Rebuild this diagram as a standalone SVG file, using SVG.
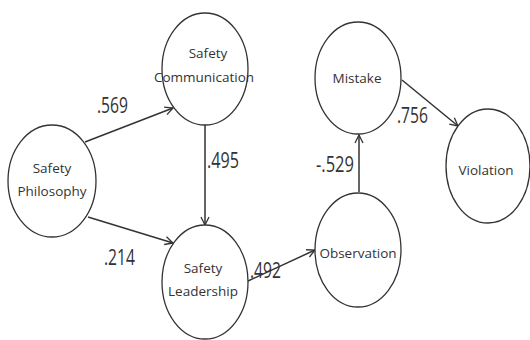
<svg xmlns="http://www.w3.org/2000/svg" width="530" height="340" viewBox="0 0 530 340">
<defs>
<marker id="arr" viewBox="0 0 10 10" refX="9" refY="5" markerWidth="10" markerHeight="10" markerUnits="userSpaceOnUse" orient="auto">
<path d="M1,1 L9,5 L1,9" fill="none" stroke="#333" stroke-width="1.3"/>
</marker>
<style>
.node ellipse{fill:#fff;stroke:#333;stroke-width:1.3}
.node text{font-family:"Open Sans","Noto Sans",sans-serif;font-size:13.5px;fill:#333;text-anchor:middle}
.edge line{stroke:#333;stroke-width:1.5;marker-end:url(#arr)}
.lbl{font-family:"Open Sans","Noto Sans",sans-serif;font-size:21px;fill:#333}
</style>
</defs>
<rect width="530" height="340" fill="#fff"/>
<g id="connectors" class="edge">
<line x1="85" y1="142" x2="173" y2="108"/>
<line x1="205" y1="125" x2="205" y2="225"/>
<line x1="88" y1="217" x2="173" y2="243"/>
<line x1="248" y1="281" x2="315" y2="250"/>
<line x1="359" y1="192" x2="359" y2="135"/>
<line x1="402" y1="80" x2="458" y2="126"/>
</g>
<g id="safety-communication" class="node">
<ellipse cx="205" cy="69" rx="43" ry="56"/>
<text x="208" y="58">Safety</text>
<text x="204" y="82">Communication</text>
</g>
<g id="safety-philosophy" class="node">
<ellipse cx="52" cy="181" rx="44" ry="56"/>
<text x="52" y="173">Safety</text>
<text x="52" y="196">Philosophy</text>
</g>
<g id="safety-leadership" class="node">
<ellipse cx="205" cy="282" rx="43" ry="57"/>
<text x="203" y="273">Safety</text>
<text x="203" y="296">Leadership</text>
</g>
<g id="observation" class="node">
<ellipse cx="358" cy="250" rx="43" ry="57"/>
<text x="358" y="258">Observation</text>
</g>
<g id="mistake" class="node">
<ellipse cx="358" cy="78" rx="43" ry="56"/>
<text x="357" y="83">Mistake</text>
</g>
<g id="violation" class="node">
<ellipse cx="488" cy="166" rx="42" ry="57"/>
<text x="486" y="175">Violation</text>
</g>
<g id="labels">
<text class="lbl" x="97" y="113" textLength="31" lengthAdjust="spacingAndGlyphs">.569</text>
<text class="lbl" x="207" y="168" textLength="32" lengthAdjust="spacingAndGlyphs">.495</text>
<text class="lbl" x="104" y="265" textLength="31" lengthAdjust="spacingAndGlyphs">.214</text>
<text class="lbl" x="250" y="278" textLength="31" lengthAdjust="spacingAndGlyphs">.492</text>
<text class="lbl" x="316" y="172" textLength="38" lengthAdjust="spacingAndGlyphs">-.529</text>
<text class="lbl" x="397" y="123" textLength="31" lengthAdjust="spacingAndGlyphs">.756</text>
</g>
</svg>
